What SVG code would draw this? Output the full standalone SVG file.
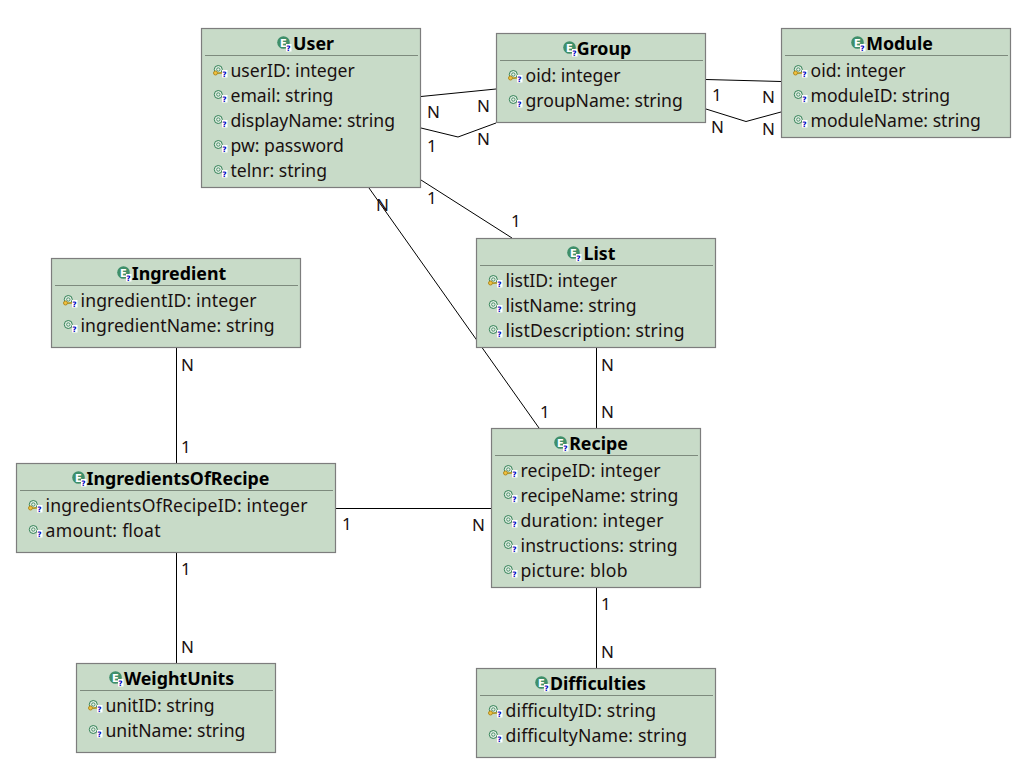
<svg xmlns="http://www.w3.org/2000/svg" width="1028" height="784" viewBox="0 0 1028 784">
<style>
text{font-family:"Noto Sans","Open Sans","DejaVu Sans",sans-serif;fill:#1a1010}
.box{fill:#c8dbc8;stroke:#7d7d7d;stroke-width:1.2}
.sep{stroke:#7d8a7d;stroke-width:1}
.t{font-size:17.800px;font-weight:700;text-anchor:middle;fill:#000}
.a{font-size:17.600px}
.c{font-size:17px}
.con{fill:none;stroke:#000;stroke-width:1}
.ring{fill:#e4efe4;stroke:#2f7f55;stroke-width:1}
.in{fill:none;stroke:#2f7f55;stroke-width:.8}
.e{font-size:10px;font-weight:700;fill:#fff;font-family:"DejaVu Sans",sans-serif}
.q{font-size:7.500px;font-weight:700;fill:#0000c0;font-family:"DejaVu Sans",sans-serif}
</style>
<defs>
<g id="cl"><circle cx="6.500" cy="6.500" r="6.300" fill="#3f8f6a"/><text class="e" x="3" y="10.500">E</text><rect x="9" y="8" width="5.500" height="7.500" fill="#fff"/><text class="q" x="9.300" y="15">?</text></g>
<g id="f"><circle class="ring" cx="4.300" cy="4.500" r="4"/><circle class="in" cx="4.300" cy="4.500" r="1.700"/><rect x="8" y="5" width="5.500" height="7.500" fill="#fff"/><text class="q" x="8.300" y="12">?</text></g>
<g id="k"><use href="#f"/><circle cx="1.500" cy="8" r="2" fill="#f0c040" stroke="#b08a20"/><path d="M3.500 8H8" stroke="#c09a20" stroke-width="1.500"/></g>
</defs>
<g id="connectors">
<path class="con" d="M421 96.500 496 89"/>
<path class="con" d="M421 128 458 137 496 123"/>
<path class="con" d="M421 180 512 238"/>
<path class="con" d="M369 188 539 428"/>
<path class="con" d="M706 79.500 781 81.500"/>
<path class="con" d="M706 109 746 121.500 781 112"/>
<path class="con" d="M596.500 348V428"/>
<path class="con" d="M176.500 348V463"/>
<path class="con" d="M336 508.500H491"/>
<path class="con" d="M176.500 553V663"/>
<path class="con" d="M596.500 588V668"/>
<text class="c" x="427" y="118">N</text><text class="c" x="477" y="112">N</text>
<text class="c" x="427" y="152">1</text><text class="c" x="477" y="145">N</text>
<text class="c" x="427" y="204">1</text><text class="c" x="511" y="227">1</text>
<text class="c" x="376" y="211">N</text><text class="c" x="540" y="418">1</text>
<text class="c" x="712" y="101">1</text><text class="c" x="762" y="103">N</text>
<text class="c" x="711" y="133">N</text><text class="c" x="762" y="135">N</text>
<text class="c" x="601" y="371">N</text><text class="c" x="601" y="418">N</text>
<text class="c" x="181" y="371">N</text><text class="c" x="181" y="453">1</text>
<text class="c" x="342" y="530">1</text><text class="c" x="472" y="531">N</text>
<text class="c" x="181" y="575">1</text><text class="c" x="181" y="653">N</text>
<text class="c" x="601" y="610">1</text><text class="c" x="601" y="658">N</text>
</g>
<g id="User"><rect class="box" x="201.500" y="28.500" width="219" height="159"/><path class="sep" d="M205 55.500H418"/><use href="#cl" x="277" y="36"/><text class="t" x="313.500" y="50">User</text>
<use href="#k" x="214" y="65"/><text class="a" x="230.500" y="77">userID: integer</text>
<use href="#f" x="214" y="90"/><text class="a" x="230.500" y="102">email: string</text>
<use href="#f" x="214" y="115"/><text class="a" x="230.500" y="127" textLength="164.500">displayName: string</text>
<use href="#f" x="214" y="140"/><text class="a" x="230.500" y="152">pw: password</text>
<use href="#f" x="214" y="165"/><text class="a" x="230.500" y="177">telnr: string</text></g>
<g id="Group"><rect class="box" x="496.500" y="33.500" width="209" height="89"/><path class="sep" d="M500 60.500H703"/><use href="#cl" x="563" y="41"/><text class="t" x="604" y="55">Group</text>
<use href="#k" x="509" y="70"/><text class="a" x="525.500" y="82">oid: integer</text>
<use href="#f" x="509" y="95"/><text class="a" x="525.500" y="107">groupName: string</text></g>
<g id="Module"><rect class="box" x="781.500" y="28.500" width="229" height="109"/><path class="sep" d="M785 55.500H1008"/><use href="#cl" x="851" y="36"/><text class="t" x="899.500" y="50">Module</text>
<use href="#k" x="794" y="65"/><text class="a" x="810.500" y="77">oid: integer</text>
<use href="#f" x="794" y="90"/><text class="a" x="810.500" y="102">moduleID: string</text>
<use href="#f" x="794" y="115"/><text class="a" x="810.500" y="127">moduleName: string</text></g>
<g id="List"><rect class="box" x="476.500" y="238.500" width="239" height="109"/><path class="sep" d="M480 265.500H713"/><use href="#cl" x="567" y="246"/><text class="t" x="599.500" y="260">List</text>
<use href="#k" x="489" y="275"/><text class="a" x="505.500" y="287">listID: integer</text>
<use href="#f" x="489" y="300"/><text class="a" x="505.500" y="312">listName: string</text>
<use href="#f" x="489" y="325"/><text class="a" x="505.500" y="337" textLength="179">listDescription: string</text></g>
<g id="Ingredient"><rect class="box" x="51.500" y="258.500" width="249" height="89"/><path class="sep" d="M55 285.500H298"/><use href="#cl" x="117" y="266"/><text class="t" x="179" y="280">Ingredient</text>
<use href="#k" x="64" y="295"/><text class="a" x="80.500" y="307" textLength="176">ingredientID: integer</text>
<use href="#f" x="64" y="320"/><text class="a" x="80.500" y="332" textLength="194">ingredientName: string</text></g>
<g id="IngredientsOfRecipe"><rect class="box" x="16.500" y="463.500" width="319" height="89"/><path class="sep" d="M20 490.500H333"/><use href="#cl" x="72" y="471"/><text class="t" x="178" y="485">IngredientsOfRecipe</text>
<use href="#k" x="29" y="500"/><text class="a" x="45.500" y="512" textLength="262">ingredientsOfRecipeID: integer</text>
<use href="#f" x="29" y="525"/><text class="a" x="45.500" y="537" textLength="115">amount: float</text></g>
<g id="Recipe"><rect class="box" x="491.500" y="428.500" width="209" height="159"/><path class="sep" d="M495 455.500H698"/><use href="#cl" x="554" y="436"/><text class="t" x="598.500" y="450">Recipe</text>
<use href="#k" x="504" y="465"/><text class="a" x="520.500" y="477" textLength="140">recipeID: integer</text>
<use href="#f" x="504" y="490"/><text class="a" x="520.500" y="502">recipeName: string</text>
<use href="#f" x="504" y="515"/><text class="a" x="520.500" y="527" textLength="143">duration: integer</text>
<use href="#f" x="504" y="540"/><text class="a" x="520.500" y="552" textLength="157">instructions: string</text>
<use href="#f" x="504" y="565"/><text class="a" x="520.500" y="577" textLength="107">picture: blob</text></g>
<g id="WeightUnits"><rect class="box" x="76.500" y="663.500" width="199" height="89"/><path class="sep" d="M80 690.500H273"/><use href="#cl" x="109" y="671"/><text class="t" x="179" y="685">WeightUnits</text>
<use href="#k" x="89" y="700"/><text class="a" x="105.500" y="712">unitID: string</text>
<use href="#f" x="89" y="725"/><text class="a" x="105.500" y="737">unitName: string</text></g>
<g id="Difficulties"><rect class="box" x="476.500" y="668.500" width="239" height="89"/><path class="sep" d="M480 695.500H713"/><use href="#cl" x="535" y="676"/><text class="t" x="598" y="690">Difficulties</text>
<use href="#k" x="489" y="705"/><text class="a" x="505.500" y="717" textLength="150.500">difficultyID: string</text>
<use href="#f" x="489" y="730"/><text class="a" x="505.500" y="742" textLength="181.500">difficultyName: string</text></g>
</svg>
